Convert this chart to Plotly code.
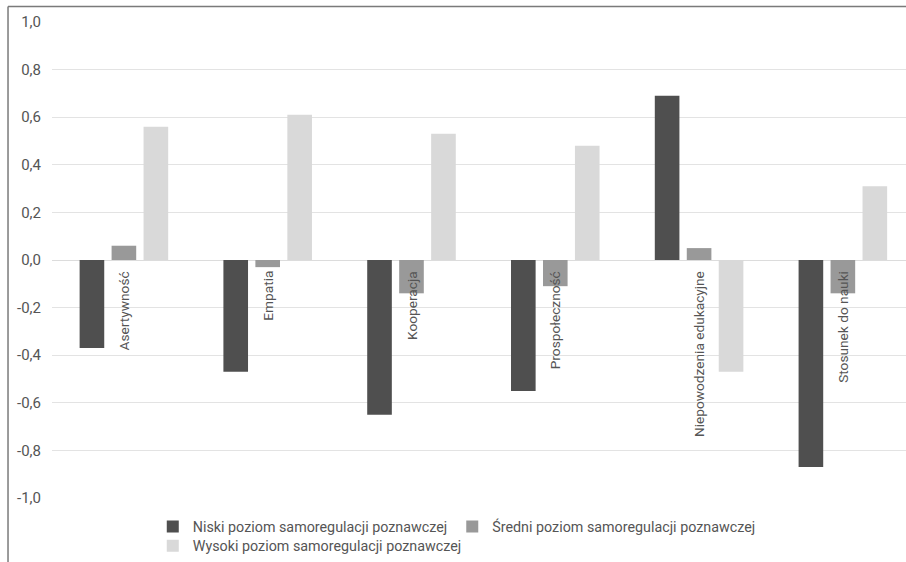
import plotly.graph_objects as go

# Categories and series (mean standardized scores per cognitive self-regulation level)
categories = ["Asertywność", "Empatia", "Kooperacja", "Prospołeczność",
              "Niepowodzenia edukacyjne", "Stosunek do nauki"]
niski = [-0.37, -0.47, -0.65, -0.55, 0.69, -0.87]
sredni = [0.06, -0.03, -0.14, -0.11, 0.05, -0.14]
wysoki = [0.56, 0.61, 0.53, 0.48, -0.47, 0.31]

series_names = ["Niski poziom samoregulacji poznawczej",
                "Średni poziom samoregulacji poznawczej",
                "Wysoki poziom samoregulacji poznawczej"]
series_colors = ["#4f4f4f", "#999999", "#d9d9d9"]
# first two entries share the upper legend row, the third sits on its own row
series_legends = ["legend", "legend", "legend2"]

tick_values = [1.0, 0.8, 0.6, 0.4, 0.2, 0.0, -0.2, -0.4, -0.6, -0.8, -1.0]
tick_labels = ["1,0", "0,8", "0,6", "0,4", "0,2", "0,0",
               "-0,2", "-0,4", "-0,6", "-0,8", "-1,0"]

FONT = "Roboto"
TEXT_COLOR = "#555555"

fig = go.Figure()
for name, vals, col, lg in zip(series_names, [niski, sredni, wysoki],
                               series_colors, series_legends):
    fig.add_trace(go.Bar(
        x=list(range(len(categories))), y=vals, name=name, legend=lg,
        marker=dict(color=col, line=dict(width=0)),
    ))

# Category names written vertically, hanging just below the zero line
for i, cat in enumerate(categories):
    fig.add_annotation(
        x=i, y=0, xref="x", yref="y", text=cat, showarrow=False,
        textangle=-90, xanchor="center", yanchor="top", yshift=-9,
        font=dict(family=FONT, size=13.7, color=TEXT_COLOR),
    )

# Frame around the chart (top and left edges)
frame = dict(color="#7a7a7a", width=1.5)
fig.add_shape(type="line", xref="paper", yref="paper",
              x0=-0.0515, x1=1.05, y0=1.0326, y1=1.0326, line=frame)
fig.add_shape(type="line", xref="paper", yref="paper",
              x0=-0.0515, x1=-0.0515, y0=1.0326, y1=-0.3, line=frame)

legend_font = dict(family=FONT, size=14.3, color=TEXT_COLOR)
fig.update_layout(
    width=906, height=562,
    margin=dict(l=52, r=0, t=22, b=64),
    paper_bgcolor="white", plot_bgcolor="white",
    barmode="group", bargap=0.333, bargroupgap=0.23,
    font=dict(family=FONT, size=14, color=TEXT_COLOR),
    showlegend=True,
    legend=dict(
        orientation="h", x=0.118, xanchor="left", y=-0.0265, yanchor="top",
        font=legend_font, bgcolor="rgba(0,0,0,0)", traceorder="normal",
    ),
    legend2=dict(
        orientation="h", x=0.118, xanchor="left", y=-0.068, yanchor="top",
        font=legend_font, bgcolor="rgba(0,0,0,0)",
    ),
    xaxis=dict(
        range=[-0.5, 5.439], showticklabels=False, showgrid=False,
        zeroline=False, showline=False, ticks="", fixedrange=True,
    ),
    yaxis=dict(
        range=[-1.0, 1.0], tickvals=tick_values, ticktext=tick_labels,
        showgrid=True, gridcolor="#e3e3e3", gridwidth=1,
        zeroline=True, zerolinecolor="#dcdcdc", zerolinewidth=1,
        showline=False, ticks="", ticklabelstandoff=10,
        tickfont=dict(family=FONT, size=15, color=TEXT_COLOR),
    ),
)

fig.write_html("out.html")
